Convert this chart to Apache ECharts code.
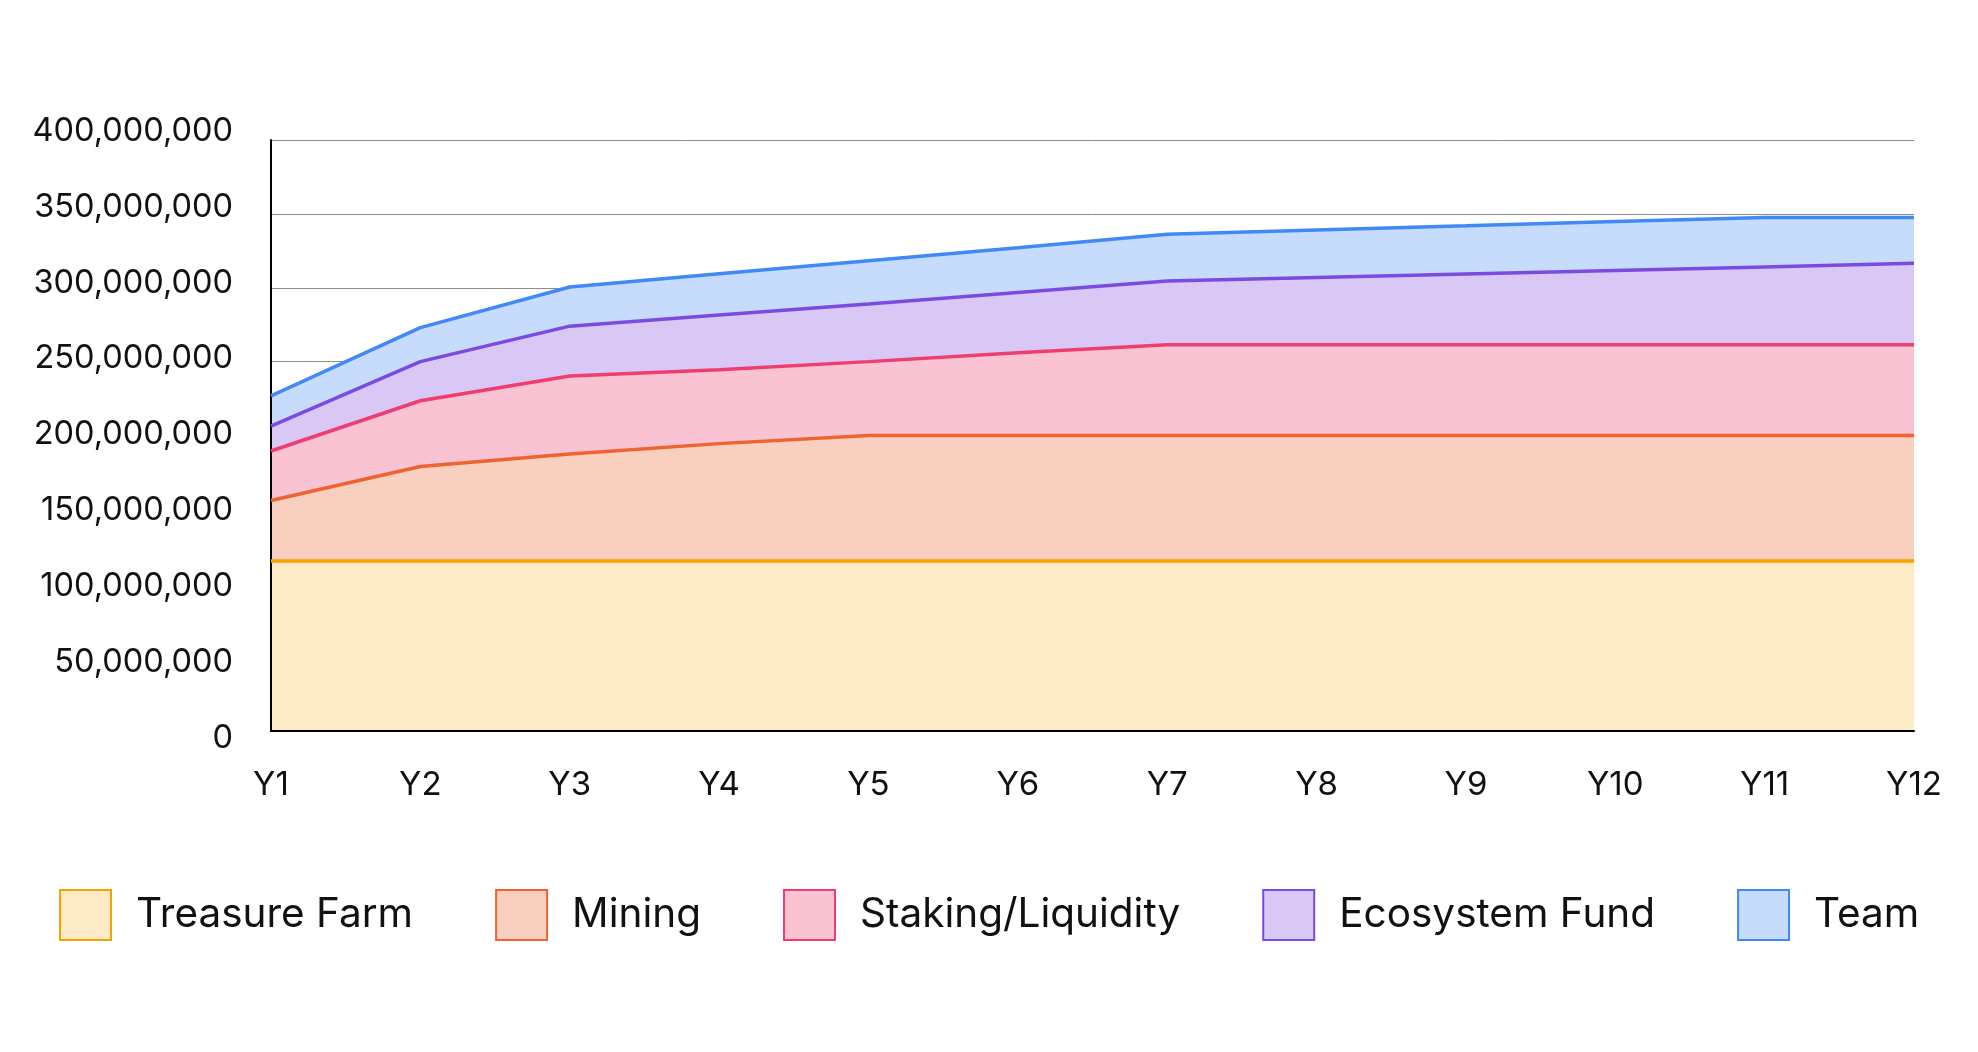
<!DOCTYPE html>
<html><head><meta charset="utf-8">
<script src="https://cdn.jsdelivr.net/npm/echarts@6/dist/echarts.min.js"></script>
<style>html,body{margin:0;padding:0;background:#fff}#c{width:1978px;height:1052px}</style>
</head><body><div id="c"></div>
<script>
const categories = ['Y1','Y2','Y3','Y4','Y5','Y6','Y7','Y8','Y9','Y10','Y11','Y12'];
const seriesNames = ['Treasure Farm','Mining','Staking/Liquidity','Ecosystem Fund','Team'];
const treasureFarm  = [115e6,115e6,115e6,115e6,115e6,115e6,115e6,115e6,115e6,115e6,115e6,115e6];
const mining        = [41e6,64e6,72.5e6,79.5e6,85e6,85e6,85e6,85e6,85e6,85e6,85e6,85e6];
const staking       = [33.5e6,44.5e6,52.8e6,50e6,50e6,56e6,61.5e6,61.5e6,61.5e6,61.5e6,61.5e6,61.5e6];
const ecosystemFund = [16.9e6,26.5e6,33.7e6,37e6,39e6,40.8e6,43e6,45.5e6,47.8e6,50.2e6,52.6e6,55e6];
const team          = [20.4e6,23e6,26.5e6,27.9e6,29.3e6,30.3e6,31.7e6,32.1e6,32.6e6,33.1e6,33.5e6,31.1e6];
const yMin = 0, yMax = 400e6, yStep = 50e6;

const lineColors = ['#F5A300','#EE6330','#F03D70','#7B4AE2','#4189F5'];
const fillColors = ['#FDEBC8','#F9CFBF','#F9C3D4','#D9C7F5','#C7DBFC'];
const allData = [treasureFarm, mining, staking, ecosystemFund, team];
const FONT = 'Inter, "Noto Sans", sans-serif';

const chart = echarts.init(document.getElementById('c'), null, {renderer:'canvas'});
chart.setOption({
  animation:false,
  backgroundColor:'#fff',
  grid:[
    {left:271, right:64, top:140, bottom:321},
    {left:271, right:64, top:131, bottom:314}
  ],
  legend:{
    top:884, left:54, icon:'rect', itemWidth:51, itemHeight:50, itemGap:82,
    textStyle:{fontSize:40.5, color:'#111', fontFamily:FONT, padding:[0,0,0,20]},
    data: seriesNames.map((n,i)=>({name:n, itemStyle:{color:fillColors[i], borderColor:lineColors[i], borderWidth:2}}))
  },
  xAxis:[
    {type:'category', gridIndex:0, data:categories, boundaryGap:false, z:4,
     axisLine:{show:true, lineStyle:{color:'#000', width:2}},
     axisTick:{show:false},
     axisLabel:{fontSize:33, color:'#111', fontFamily:FONT, margin:38}},
    {type:'category', gridIndex:1, data:categories, show:false}
  ],
  yAxis:[
    {type:'value', gridIndex:0, min:yMin, max:yMax, interval:yStep, z:3,
     axisLine:{show:true, lineStyle:{color:'#000', width:2}},
     axisTick:{show:false}, axisLabel:{show:false},
     splitLine:{show:true, lineStyle:{color:'#8c8c8c', width:1}}},
    {type:'value', gridIndex:1, min:yMin, max:yMax, interval:yStep,
     axisLine:{show:false}, axisTick:{show:false}, splitLine:{show:false},
     axisLabel:{fontSize:32.5, color:'#111', fontFamily:FONT, margin:38,
       formatter:v=>v.toLocaleString('en-US')}}
  ],
  series: seriesNames.map((n,i)=>({
    name:n, type:'line', stack:'total', xAxisIndex:0, yAxisIndex:0,
    data:allData[i], symbol:'none', showSymbol:false,
    itemStyle:{color:lineColors[i]},
    lineStyle:{color:lineColors[i], width:3.5},
    areaStyle:{color:fillColors[i], opacity:1}
  }))
});
</script></body></html>
